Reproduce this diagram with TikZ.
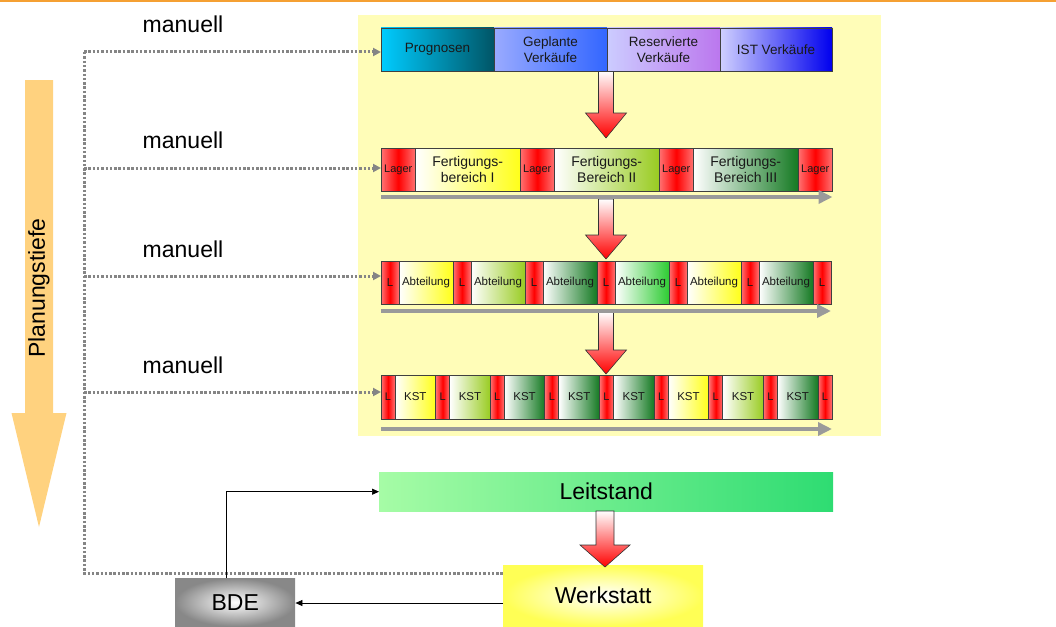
\documentclass[tikz,border=0pt]{standalone}
\usepackage{fontspec}
\setmainfont{Liberation Sans}
\usetikzlibrary{arrows.meta}
\definecolor{topline}{HTML}{F5A033}
\definecolor{bgyel}{HTML}{FFFDB8}
\definecolor{orarrow}{HTML}{FFD27F}
\definecolor{pinkR}{HTML}{FF7373}
\definecolor{yel}{HTML}{FFFF1A}
\definecolor{ygr}{HTML}{99CC22}
\definecolor{dgr}{HTML}{157A23}
\definecolor{bgr}{HTML}{2ECC33}
\definecolor{progL}{HTML}{00CCFF}
\definecolor{progR}{HTML}{005566}
\definecolor{gepL}{HTML}{99AAFF}
\definecolor{gepR}{HTML}{3366FF}
\definecolor{resL}{HTML}{CCCCFF}
\definecolor{resR}{HTML}{BB77EE}
\definecolor{istL}{HTML}{D0D0FF}
\definecolor{istR}{HTML}{0000EE}
\definecolor{leitL}{HTML}{A6FCA6}
\definecolor{leitR}{HTML}{2EDC72}
\definecolor{werkY}{HTML}{FFFF55}
\definecolor{bdeG}{HTML}{888888}
\definecolor{flowgray}{HTML}{9A9A9A}
\definecolor{dotgray}{HTML}{858585}
\newcommand\blockarrow[6]{%
  \shadedraw[top color=white, bottom color=red, draw=black!80, line width=0.6pt]
    (#1-#5,#2) -- (#1+#5,#2) -- (#1+#5,#3) -- (#1+#6,#3) -- (#1,#4)
    -- (#1-#6,#3) -- (#1-#5,#3) -- cycle;}
\begin{document}
\begin{tikzpicture}[x=1pt,y=-1pt,
  cell/.style={draw=black!75, line width=0.8pt, inner sep=0pt, outer sep=0pt,
    anchor=north west, align=center, text=black!90},
  lager/.style={cell, left color=pinkR, right color=pinkR, middle color=red},
  flow/.style={draw=flowgray, line width=4pt, -{Triangle[length=14pt,width=13pt]}},
  dotline/.style={draw=dotgray, line width=3pt, dash pattern=on 2.5pt off 1.8pt},
  dotarrow/.style={dotline, -{Triangle[length=8pt,width=8pt]}},
  conn/.style={draw=black, line width=0.7pt, -{Triangle[length=7pt,width=6pt]}},
  big/.style={font=\fontsize{23}{26}\selectfont}
]
\useasboundingbox (0,0) rectangle (1056,626);
\fill[topline] (0,0) rectangle (1056,2);

% Planungstiefe arrow
\fill[orarrow] (25,80) -- (53,80) -- (53,413) -- (66.5,413) -- (39,527) -- (11.5,413) -- (25,413) -- cycle;
\node[big, rotate=90] (pt) at (39,288) {Planungstiefe};

% yellow background
\fill[bgyel] (358,15) rectangle (881,436);

% block arrows between rows
\blockarrow{606}{71}{113}{138}{7.5}{20.5}
\blockarrow{606}{199}{235}{259}{7.5}{20.5}
\blockarrow{606}{312}{350}{374}{7.5}{20.5}

% Row 1
\begin{scope}[font=\fontsize{13.5}{15.5}\selectfont]
\node[cell, minimum width=113pt, minimum height=43pt, left color=progL, right color=progR] (r1a) at (381,28) {Prognosen};
\node[cell, minimum width=113pt, minimum height=43pt, left color=gepL, right color=gepR] (r1b) at (494,28) {Geplante\\Verkäufe};
\node[cell, minimum width=113pt, minimum height=43pt, left color=resL, right color=resR] (r1c) at (607,28) {Reservierte\\Verkäufe};
\node[cell, minimum width=112pt, minimum height=43pt, left color=istL, right color=istR] (r1d) at (720,28) {IST Verkäufe};
\end{scope}

% Row 2
\begin{scope}[font=\fontsize{14}{16}\selectfont]
\foreach \x/\n in {381/a,520/b,659/c,798/d}{
  \node[lager, minimum width=34.5pt, minimum height=43pt, font=\fontsize{11}{12}\selectfont] (r2l\n) at (\x,148) {Lager};}
\node[cell, minimum width=104.5pt, minimum height=43pt, left color=white, right color=yel] (r2f1) at (415.5,148) {Fertigungs-\\bereich I};
\node[cell, minimum width=104.5pt, minimum height=43pt, left color=white, right color=ygr] (r2f2) at (554.5,148) {Fertigungs-\\Bereich II};
\node[cell, minimum width=104.5pt, minimum height=43pt, left color=white, right color=dgr] (r2f3) at (693.5,148) {Fertigungs-\\Bereich III};
\end{scope}
\draw[flow] (r2la.south west) ++(0,6) coordinate (f2s) -- (f2s -| r2ld.south east);

% Row 3
\begin{scope}[font=\fontsize{11.5}{13}\selectfont]
\foreach \i in {0,...,6}{
  \node[lager, minimum width=18pt, minimum height=43pt] (r3l\i) at (381+\i*72,261) {L};}
\foreach \i/\c in {0/yel,1/ygr,2/dgr,3/bgr,4/yel,5/dgr}{
  \node[cell, minimum width=54pt, minimum height=43pt, left color=white, right color=\c] (r3a\i) at (399+\i*72,261) {Abteilung};}
\end{scope}
\draw[flow] (r3l0.south west) ++(0,7) coordinate (f3s) -- (f3s -| r3l6.south east);

% Row 4
\begin{scope}[font=\fontsize{11.5}{13}\selectfont]
\foreach \i in {0,...,8}{
  \node[lager, minimum width=14pt, minimum height=44pt, font=\fontsize{11}{12}\selectfont] (r4l\i) at (381+\i*54.625,375) {L};}
\foreach \i/\c in {0/yel,1/ygr,2/dgr,3/dgr,4/dgr,5/yel,6/ygr,7/dgr}{
  \node[cell, minimum width=40.625pt, minimum height=44pt, left color=white, right color=\c] (r4k\i) at (395+\i*54.625,375) {KST};}
\end{scope}
\draw[flow] (r4l0.south west) ++(0,10) coordinate (f4s) -- (f4s -| r4l8.south east);

% manuell labels
\node[big] (m1) at (183,24) {manuell};
\node[big] (m2) at (183,140) {manuell};
\node[big] (m3) at (183,249) {manuell};
\node[big] (m4) at (183,365) {manuell};

% Bottom nodes
\node[inner sep=0pt, minimum width=454pt, minimum height=39pt, left color=leitL, right color=leitR, anchor=north west,
  font=\fontsize{23}{26}\selectfont] (leit) at (379,472) {Leitstand};
\node[inner sep=0pt, minimum width=200pt, minimum height=61pt, inner color=white, outer color=werkY, anchor=north west,
  font=\fontsize{23}{26}\selectfont] (werk) at (503,565) {Werkstatt};
\node[inner sep=0pt, minimum width=120pt, minimum height=48pt, inner color=white, outer color=bdeG, anchor=north west,
  font=\fontsize{23}{26}\selectfont] (bde) at (175,578) {BDE};

\blockarrow{605}{511}{545}{567}{9}{25}

% dotted "manuell" lines
\coordinate (t1) at (84,52);
\coordinate (t2) at (84,168);
\coordinate (t3) at (84,276);
\coordinate (t4) at (84,392);
\coordinate (tb) at (84,573);
\draw[dotline] (t1) -- (tb) -- (tb -| werk.west);
\draw[dotarrow] (t1) -- (t1 -| r1a.west);
\draw[dotarrow] (t2) -- (t2 -| r2la.west);
\draw[dotarrow] (t3) -- (t3 -| r3l0.west);
\draw[dotarrow] (t4) -- (t4 -| r4l0.west);

% BDE / Leitstand / Werkstatt connectors
\draw[conn] ([xshift=-9pt]bde.north) |- (leit.west);
\draw[conn] (werk.west |- 0,603) -- (bde.east |- 0,603);
\end{tikzpicture}
\end{document}
